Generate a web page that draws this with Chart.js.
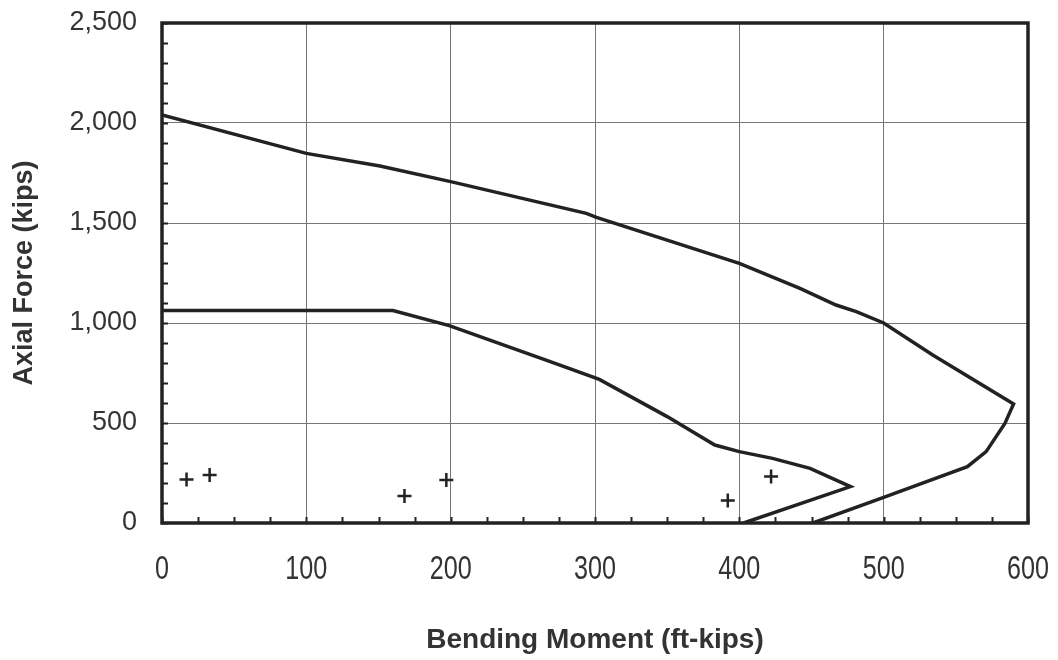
<!DOCTYPE html>
<html>
<head>
<meta charset="utf-8">
<script src="https://cdn.jsdelivr.net/npm/chart.js@4.4.1/dist/chart.umd.min.js"></script>
<style>
  html, body { margin: 0; padding: 0; background: #fff; }
  #wrap { width: 1058px; height: 660px; position: relative; }
</style>
</head>
<body>
<div id="wrap"><canvas id="pmChart"></canvas></div>
<script>
// Interaction diagram - outer envelope (ft-kips, kips)
const outerMoment = [0, 100, 151, 200, 294, 301, 400, 442, 467, 481, 500, 534, 590, 584, 571, 558, 500, 451];
const outerAxial  = [2040, 1848, 1785, 1707, 1548, 1528, 1298, 1173, 1090, 1057, 1000, 840, 595, 498, 357, 282, 128, 0];

// inner envelope
const innerMoment = [0, 160, 199, 269, 303, 350, 383, 400, 423, 449, 477, 403];
const innerAxial  = [1062, 1062, 987, 807, 718, 532, 390, 357, 323, 273, 182, 0];

// demand points (+)
const demandMoment = [17, 33, 168, 197, 392, 422];
const demandAxial  = [218, 240, 135, 215, 112, 232];

// axis ticks
const xMajorTicks = [0, 100, 200, 300, 400, 500, 600];
const yMajorTicks = [0, 500, 1000, 1500, 2000, 2500];
const xMinorStep = 25;
const yMinorStep = 100;

const ink = '#222';
const gridColor = '#777';

function toPoints(xs, ys) {
    return xs.map((x, i) => ({ x: x, y: ys[i] }));
}

// desenha a moldura e os tiques internos
const frameTicks = {
    id: 'frameTicks',
    afterDatasetsDraw(chart) {
        const { ctx, chartArea: a, scales: { x, y } } = chart;
        ctx.save();
        ctx.strokeStyle = ink;
        ctx.lineWidth = 2;
        ctx.beginPath();
        for (let v = 0; v <= 600; v += xMinorStep) {
            const px = Math.round(x.getPixelForValue(v)) + 0.5;
            ctx.moveTo(px, a.bottom);
            ctx.lineTo(px, a.bottom - 6);
        }
        for (let v = 0; v <= 2500; v += yMinorStep) {
            const py = Math.round(y.getPixelForValue(v)) + 0.5;
            ctx.moveTo(a.left, py);
            ctx.lineTo(a.left + 6, py);
        }
        ctx.stroke();
        ctx.lineWidth = 3.5;
        ctx.strokeRect(a.left, a.top, a.right - a.left, a.bottom - a.top);
        ctx.restore();
    }
};

// os rótulos do eixo X no original são estreitos (condensados)
const squeezeXLabels = {
    id: 'squeezeXLabels',
    beforeDraw(chart) {
        const sc = chart.scales.x;
        if (!sc || sc._squeezed) return;
        const orig = sc.drawLabels.bind(sc);
        sc.drawLabels = function (area) {
            const c = this.ctx;
            const fill = c.fillText;
            c.fillText = function (t, px, py) {
                c.save();
                c.translate(px, py);
                c.scale(0.74, 1);
                fill.call(c, t, 0, 0);
                c.restore();
            };
            orig(area);
            c.fillText = fill;
        };
        sc._squeezed = true;
    }
};

const ctx = document.getElementById('pmChart').getContext('2d');
new Chart(ctx, {
    type: 'scatter',
    data: {
        datasets: [
            {
                label: 'Outer',
                data: toPoints(outerMoment, outerAxial),
                showLine: true,
                borderColor: ink,
                borderWidth: 3.5,
                pointRadius: 0,
                tension: 0
            },
            {
                label: 'Inner',
                data: toPoints(innerMoment, innerAxial),
                showLine: true,
                borderColor: ink,
                borderWidth: 3.5,
                pointRadius: 0,
                tension: 0
            },
            {
                label: 'Demand',
                data: toPoints(demandMoment, demandAxial),
                pointStyle: 'cross',
                pointRadius: 7,
                borderColor: ink,
                backgroundColor: ink,
                pointBorderWidth: 2.5
            }
        ]
    },
    options: {
        responsive: true,
        maintainAspectRatio: false,
        animation: false,
        layout: { padding: { top: 23, right: 30, left: 0, bottom: 0 } },
        plugins: {
            legend: { display: false },
            tooltip: { enabled: false }
        },
        scales: {
            x: {
                type: 'linear',
                min: 0,
                max: 600,
                afterBuildTicks: s => { s.ticks = xMajorTicks.map(v => ({ value: v })); },
                afterFit: s => {
                    s.height = 137;
                    s.paddingLeft = 0;
                    s.paddingRight = 0;
                },
                grid: { color: gridColor, lineWidth: 1, drawTicks: false },
                border: { display: false },
                ticks: {
                    color: '#333',
                    padding: 26,
                    maxRotation: 0,
                    font: { family: "'Liberation Sans', Arial, sans-serif", size: 34 }
                },
                title: {
                    display: true,
                    text: 'Bending Moment (ft-kips)',
                    color: '#333',
                    padding: { top: 0, bottom: 3 },
                    font: { family: "'Liberation Sans', Arial, sans-serif", size: 28, weight: 'bold' }
                }
            },
            y: {
                type: 'linear',
                min: 0,
                max: 2500,
                afterBuildTicks: s => { s.ticks = yMajorTicks.map(v => ({ value: v })); },
                afterFit: s => {
                    s.width = 162;
                    s.paddingTop = 0;
                    s.paddingBottom = 0;
                },
                grid: { color: gridColor, lineWidth: 1, drawTicks: false },
                border: { display: false },
                ticks: {
                    color: '#333',
                    padding: 25,
                    font: { family: "'Liberation Sans', Arial, sans-serif", size: 27 },
                    callback: v => v.toLocaleString('en-US')
                },
                title: {
                    display: true,
                    text: 'Axial Force (kips)',
                    color: '#333',
                    padding: { top: 8, bottom: 0 },
                    font: { family: "'Liberation Sans', Arial, sans-serif", size: 27, weight: 'bold' }
                }
            }
        }
    },
    plugins: [frameTicks, squeezeXLabels]
});
</script>
</body>
</html>
